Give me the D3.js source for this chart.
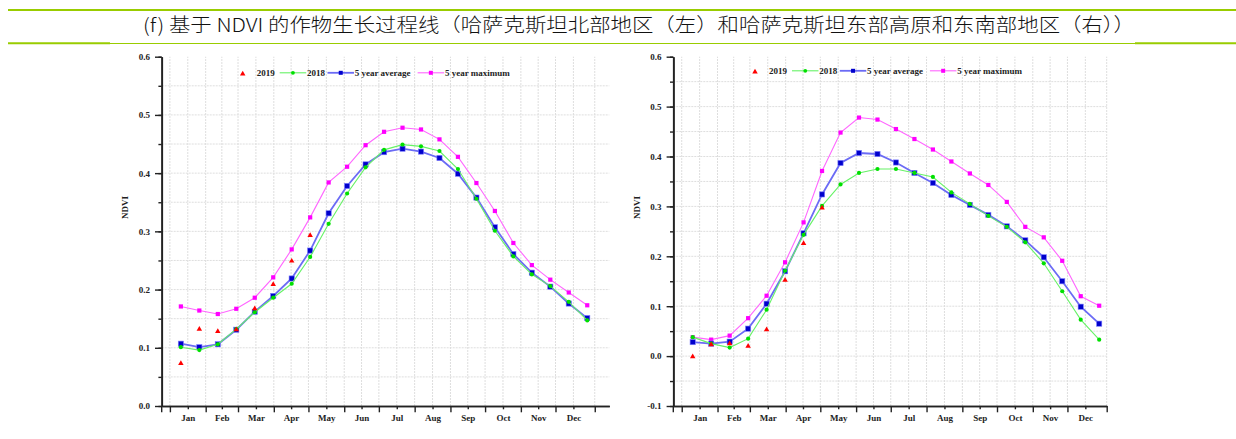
<!DOCTYPE html>
<html><head><meta charset="utf-8">
<script src="https://cdn.jsdelivr.net/npm/d3@7"></script>
<style>
html,body{margin:0;padding:0;background:#fff;}
svg{display:block;}
.tick text{font-family:"Liberation Serif","Times New Roman",serif;font-weight:bold;font-size:9px;fill:#222;}
.lg{font-family:"Liberation Serif","Times New Roman",serif;font-weight:bold;font-size:9px;fill:#222;}
</style></head><body>
<svg id="c" width="1236" height="439"></svg>
<script>
// ---------------- data ----------------
const titleText = "(f) 基于 NDVI 的作物生长过程线（哈萨克斯坦北部地区（左）和哈萨克斯坦东部高原和东南部地区（右））";
const yAxisTitle = "NDVI";
const months = ["Jan","Feb","Mar","Apr","May","Jun","Jul","Aug","Sep","Oct","Nov","Dec"];
const monthStartDays = [0,31,59,90,120,151,181,212,243,273,304,334,365];
const yearEndTickDay = 368;
// MODIS 16-day composite start day-of-year (23 per year)
const compositeDOY = [1,17,33,49,65,81,97,113,129,145,161,177,193,209,225,241,257,273,289,305,321,337,353];
const seriesNames = ["2019","2018","5 year average","5 year maximum"];

// Left: Northern Kazakhstan
const north2019 = [0.073,0.132,0.128,0.131,0.167,0.209,0.249,0.293];
const north2018 = [0.101,0.096,0.106,0.132,0.161,0.186,0.210,0.256,0.313,0.365,0.410,0.440,0.449,0.446,0.438,0.407,0.356,0.301,0.257,0.226,0.206,0.179,0.147];
const northAvg  = [0.107,0.101,0.106,0.131,0.162,0.189,0.219,0.267,0.331,0.378,0.415,0.436,0.442,0.437,0.426,0.399,0.358,0.307,0.261,0.229,0.205,0.176,0.151];
const northMax  = [0.171,0.164,0.158,0.167,0.186,0.221,0.269,0.324,0.384,0.411,0.448,0.471,0.478,0.475,0.458,0.428,0.383,0.335,0.280,0.242,0.217,0.195,0.173];
const northYTicks = [0.0,0.1,0.2,0.3,0.4,0.5,0.6];

// Right: Eastern plateau & south-east Kazakhstan
const east2019 = [-0.001,0.023,0.025,0.020,0.053,0.152,0.226,0.297];
const east2018 = [0.038,0.025,0.017,0.035,0.093,0.171,0.243,0.301,0.344,0.367,0.375,0.375,0.367,0.359,0.328,0.305,0.281,0.259,0.228,0.186,0.130,0.073,0.033];
const eastAvg  = [0.028,0.025,0.029,0.055,0.105,0.170,0.246,0.324,0.387,0.407,0.405,0.388,0.367,0.347,0.323,0.303,0.283,0.260,0.232,0.198,0.150,0.099,0.065];
const eastMax  = [0.038,0.033,0.041,0.076,0.121,0.188,0.268,0.371,0.448,0.478,0.474,0.455,0.435,0.414,0.390,0.366,0.343,0.309,0.259,0.238,0.191,0.120,0.101];
const eastYTicks = [-0.1,0.0,0.1,0.2,0.3,0.4,0.5,0.6];

// ---------------- layout / style ----------------
const svg = d3.select("#c");
const ruleColor = "#99cc00";
const colors = {
  r19:"#ff0000",
  g18Line:"#66f266", g18Pt:"#00e000",
  avgLine:"#6b6bf5", avgPt:"#0000cc",
  maxLine:"#ff66ff", maxPt:"#ff00ff"
};
const pointOffset = 8.5;   // plot composite at its mid-period

// title + rules
svg.append("line").attr("x1",8).attr("x2",1236).attr("y1",10).attr("y2",10)
  .attr("stroke",ruleColor).attr("stroke-width",2);
svg.append("line").attr("x1",8).attr("x2",1236).attr("y1",43.5).attr("y2",43.5)
  .attr("stroke",ruleColor).attr("stroke-width",1.2);
svg.append("line").attr("x1",8).attr("x2",110).attr("y1",43.3).attr("y2",43.3)
  .attr("stroke",ruleColor).attr("stroke-width",2);
svg.append("line").attr("x1",1135).attr("x2",1236).attr("y1",43.3).attr("y2",43.3)
  .attr("stroke",ruleColor).attr("stroke-width",2);
svg.append("text").attr("x",639).attr("y",32).attr("text-anchor","middle")
  .attr("font-family","'Noto Sans CJK SC','Noto Sans',sans-serif")
  .attr("font-weight",300).attr("font-size",19).attr("fill","#111")
  .attr("textLength",992).attr("lengthAdjust","spacingAndGlyphs")
  .text(titleText);

const charts = [
  {x0:161.7, x1:609.3, yTop:56.7, yBot:406, yDom:[0,0.6], dDom:[-7.1,380.6], yTicks:northYTicks,
   labelX:125, labelY:207.5, legX:242.7, legY:72.8,
   s19:north2019, s18:north2018, avg:northAvg, max:northMax},
  {x0:673.3, x1:1106.7, yTop:56.7, yBot:406, yDom:[-0.1,0.6], dDom:[-7.3,368], yTicks:eastYTicks,
   labelX:636.7, labelY:207.5, legX:755, legY:70.8,
   s19:east2019, s18:east2018, avg:eastAvg, max:eastMax}
];

charts.forEach(c => {
  const g = svg.append("g");
  const x = d3.scaleLinear().domain(c.dDom).range([c.x0, c.x1]);
  const y = d3.scaleLinear().domain(c.yDom).range([c.yBot, c.yTop]);
  const majorX = monthStartDays.slice(0,12).concat([yearEndTickDay]);
  const midX = months.map((m,i)=> (monthStartDays[i]+monthStartDays[i+1])/2);
  const minorY = d3.range(Math.round(c.yDom[0]*20), Math.round(c.yDom[1]*20)+1).map(k=>k/20);

  // grid
  const grid = g.append("g").attr("stroke","#dedede").attr("stroke-width",1).attr("stroke-dasharray","2,1");
  majorX.concat(midX).forEach(d=>{
    grid.append("line").attr("x1",x(d)).attr("x2",x(d)).attr("y1",c.yBot).attr("y2",c.yTop);
  });
  minorY.filter(v=> v>c.yDom[0]+1e-9 && v<c.yDom[1]-1e-9).forEach(v=>{
    grid.append("line").attr("x1",c.x0).attr("x2",c.x1).attr("y1",y(v)).attr("y2",y(v));
  });

  // axes
  const yMinor = g.append("g").attr("transform",`translate(${c.x0},0)`)
    .call(d3.axisLeft(y).tickValues(minorY).tickSize(3.3).tickSizeOuter(0).tickFormat(""));
  const yMajor = g.append("g").attr("transform",`translate(${c.x0},0)`)
    .call(d3.axisLeft(y).tickValues(c.yTicks).tickSize(6.7).tickSizeOuter(0).tickPadding(5)
      .tickFormat(v=>v.toFixed(1)));
  const xMinor = g.append("g").attr("transform",`translate(0,${c.yBot})`)
    .call(d3.axisBottom(x).tickValues(midX).tickSize(3.3).tickSizeOuter(0).tickPadding(5.6)
      .tickFormat((d,i)=>months[i]));
  const xMajor = g.append("g").attr("transform",`translate(0,${c.yBot})`)
    .call(d3.axisBottom(x).tickValues(majorX).tickSize(6.3).tickSizeOuter(0).tickFormat(""));
  [yMinor,yMajor,xMinor,xMajor].forEach(a=>{
    a.selectAll("path.domain").attr("stroke","#222").attr("stroke-width",1.7);
    a.selectAll(".tick line").attr("stroke","#222").attr("stroke-width",1.4);
  });
  g.append("line").attr("x1",c.x0).attr("x2",c.x0).attr("y1",c.yBot).attr("y2",c.yBot+6.3)
    .attr("stroke","#222").attr("stroke-width",1.4);

  g.append("text").attr("class","lg")
    .attr("transform",`translate(${c.labelX},${c.labelY}) rotate(-90)`)
    .attr("text-anchor","middle").attr("dy","0.35em").text(yAxisTitle);

  const px = (d,i)=> x(compositeDOY[i]+pointOffset);
  const line = d3.line().x(px).y(d=>y(d));

  // 5 year maximum
  g.append("path").datum(c.max).attr("d",line).attr("fill","none")
    .attr("stroke",colors.maxLine).attr("stroke-width",1.1);
  g.selectAll(null).data(c.max).join("rect")
    .attr("x",(d,i)=>px(d,i)-2.1).attr("y",d=>y(d)-2.1).attr("width",4.2).attr("height",4.2)
    .attr("fill",colors.maxPt);
  // 5 year average
  g.append("path").datum(c.avg).attr("d",line).attr("fill","none")
    .attr("stroke",colors.avgLine).attr("stroke-width",1.8);
  g.selectAll(null).data(c.avg).join("rect")
    .attr("x",(d,i)=>px(d,i)-2.6).attr("y",d=>y(d)-2.6).attr("width",5.2).attr("height",5.2)
    .attr("fill",colors.avgPt).attr("stroke","#7a7aff").attr("stroke-width",0.6);
  // 2018
  g.append("path").datum(c.s18).attr("d",line).attr("fill","none")
    .attr("stroke",colors.g18Line).attr("stroke-width",1.1);
  g.selectAll(null).data(c.s18).join("circle")
    .attr("cx",(d,i)=>px(d,i)).attr("cy",d=>y(d)).attr("r",2.1).attr("fill",colors.g18Pt);
  // 2019
  const tri = d3.symbol().type(d3.symbolTriangle).size(13);
  g.selectAll(null).data(c.s19).join("path")
    .attr("transform",(d,i)=>`translate(${px(d,i)},${y(d)})`).attr("d",tri).attr("fill",colors.r19);

  // legend
  const lg = g.append("g");
  let cx = c.legX;
  lg.append("path").attr("transform",`translate(${cx},${c.legY+1.2})`).attr("d",tri).attr("fill",colors.r19);
  cx += 14;
  const items = [
    {name:seriesNames[1], line:colors.g18Line, pt:colors.g18Pt, shape:"c", w:1.1},
    {name:seriesNames[2], line:colors.avgLine, pt:colors.avgPt, shape:"s", w:1.8},
    {name:seriesNames[3], line:colors.maxLine, pt:colors.maxPt, shape:"s", w:1.1}
  ];
  let t = lg.append("text").attr("class","lg").attr("x",cx).attr("y",c.legY).attr("dy","0.35em").text(seriesNames[0]);
  cx += t.node().getComputedTextLength();
  const gaps = [5, 2.5, 7];
  items.forEach((it,k)=>{
    const lx0 = cx + gaps[k], lx1 = lx0 + 26.5;
    lg.append("line").attr("x1",lx0).attr("x2",lx1).attr("y1",c.legY).attr("y2",c.legY)
      .attr("stroke",it.line).attr("stroke-width",it.w);
    const mx = (lx0+lx1)/2;
    if (it.shape==="c") lg.append("circle").attr("cx",mx).attr("cy",c.legY).attr("r",1.9).attr("fill",it.pt);
    else lg.append("rect").attr("x",mx-2).attr("y",c.legY-2).attr("width",4).attr("height",4).attr("fill",it.pt);
    const tt = lg.append("text").attr("class","lg").attr("x",lx1+0.8).attr("y",c.legY).attr("dy","0.35em").text(it.name);
    cx = lx1 + 0.8 + tt.node().getComputedTextLength();
  });
});
</script>
</body></html>
